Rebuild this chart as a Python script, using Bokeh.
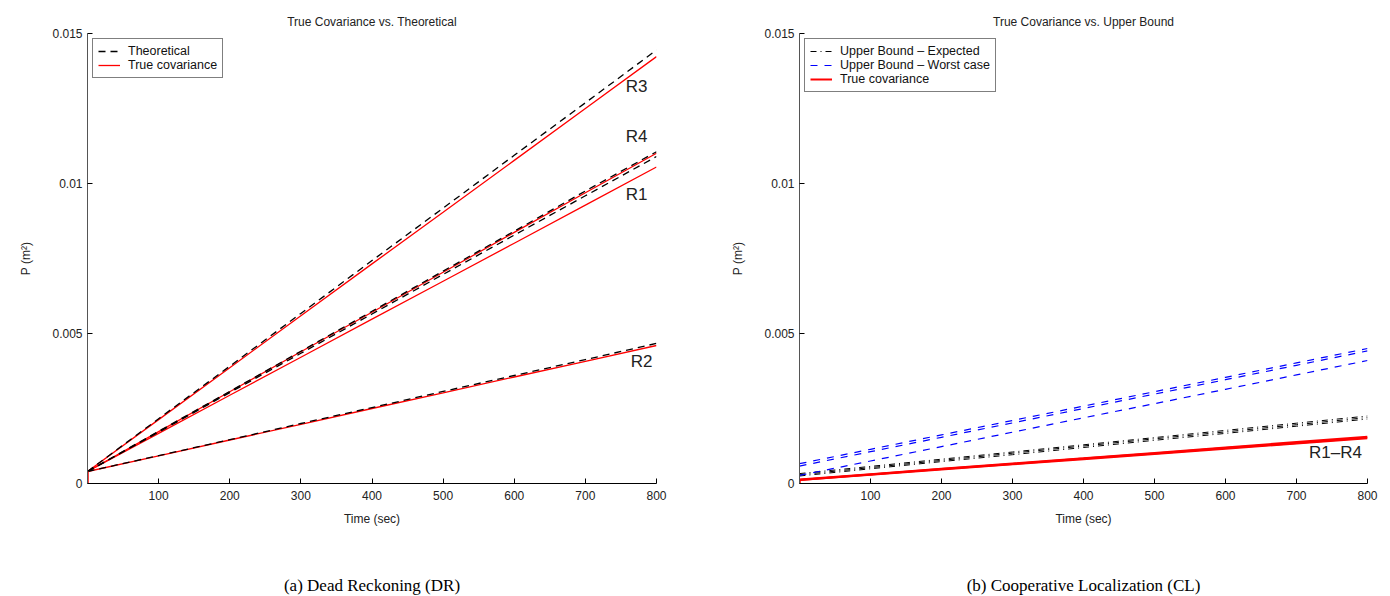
from bokeh.plotting import figure
from bokeh.models import Range1d, FixedTicker, Label, Legend, LegendItem
from bokeh.layouts import row, column
from bokeh.embed import file_html
from bokeh.resources import INLINE

# ---------------- data ----------------
time = [0, 100, 200, 300, 400, 500, 600, 700, 800]
t_start = [0, 0]

# (a) Dead reckoning
dr_theo = {
    "R3": [0.0004, 0.00216, 0.00391, 0.00567, 0.00743, 0.00918, 0.01094, 0.01269, 0.01445],
    "R4": [0.0004, 0.00174, 0.00307, 0.00441, 0.00574, 0.00708, 0.00841, 0.00975, 0.01106],
    "R1": [0.0004, 0.00171, 0.00303, 0.00434, 0.00565, 0.00697, 0.00828, 0.00959, 0.01090],
    "R2": [0.0004, 0.00093, 0.00146, 0.00200, 0.00253, 0.00307, 0.00360, 0.00413, 0.00467],
}
dr_true = {
    "R3": [0.0004, 0.00213, 0.00386, 0.00559, 0.00732, 0.00904, 0.01077, 0.01250, 0.01423],
    "R4": [0.0004, 0.00173, 0.00306, 0.00439, 0.00571, 0.00704, 0.00837, 0.00969, 0.01101],
    "R1": [0.0004, 0.00167, 0.00294, 0.00421, 0.00548, 0.00674, 0.00801, 0.00928, 0.01055],
    "R2": [0.0004, 0.00092, 0.00145, 0.00197, 0.00250, 0.00302, 0.00355, 0.00407, 0.00460],
}
dr_true_start = [0.0, 0.0004]

# (b) Cooperative localization
cl_worst = [
    [0.00066, 0.00114, 0.00162, 0.00210, 0.00258, 0.00306, 0.00354, 0.00402, 0.00450],
    [0.00058, 0.00106, 0.00154, 0.00202, 0.00250, 0.00298, 0.00346, 0.00394, 0.00442],
    [0.00027, 0.00075, 0.00123, 0.00171, 0.00219, 0.00266, 0.00314, 0.00362, 0.00410],
]
cl_expected = [
    [0.00033, 0.00057, 0.00081, 0.00105, 0.00129, 0.00153, 0.00177, 0.00201, 0.00225],
    [0.00029, 0.00053, 0.00077, 0.00101, 0.00125, 0.00149, 0.00172, 0.00196, 0.00220],
    [0.00025, 0.00049, 0.00073, 0.00096, 0.00120, 0.00144, 0.00167, 0.00191, 0.00215],
]
cl_true = [
    [0.00013, 0.00031, 0.00049, 0.00067, 0.00084, 0.00102, 0.00120, 0.00138, 0.00156],
    [0.00012, 0.00029, 0.00047, 0.00064, 0.00081, 0.00098, 0.00116, 0.00133, 0.00151],
    [0.00012, 0.00030, 0.00048, 0.00065, 0.00083, 0.00100, 0.00118, 0.00135, 0.00153],
]
cl_true_start = [0.0, 0.00013]

y_ticks = [0, 0.005, 0.01, 0.015]
y_tick_labels = {0: "0", 0.005: "0.005", 0.01: "0.01", 0.015: "0.015"}
x_ticks = [100, 200, 300, 400, 500, 600, 700, 800]

FONT = "Liberation Sans"
SERIF = "Liberation Serif"
RED = "#ff0000"
BLUE = "#0000ff"


def make_fig(border_left, border_right, title):
    p = figure(width=695, height=570, output_backend="svg", toolbar_location=None,
               x_range=Range1d(0, 800), y_range=Range1d(0, 0.015),
               min_border_left=border_left, min_border_right=border_right,
               min_border_top=33, min_border_bottom=87)
    p.title.text = title
    p.title.align = "center"
    p.title.text_font = FONT
    p.title.text_font_size = "12px"
    p.title.text_font_style = "normal"
    p.title.text_color = "#222222"
    p.title.standoff = 10
    p.outline_line_color = None
    p.grid.visible = False
    for ax in (p.xaxis[0], p.yaxis[0]):
        ax.major_tick_in = 5
        ax.major_tick_out = 0
        ax.minor_tick_in = 0
        ax.minor_tick_out = 0
        ax.axis_line_color = "black"
        ax.major_tick_line_color = "black"
        ax.major_label_text_font = FONT
        ax.major_label_text_font_size = "12px"
        ax.major_label_text_color = "#222222"
        ax.axis_label_text_font = FONT
        ax.axis_label_text_font_size = "12px"
        ax.axis_label_text_font_style = "normal"
        ax.axis_label_text_color = "#222222"
    p.yaxis[0].axis_line_color = "#555555"
    p.xaxis[0].ticker = FixedTicker(ticks=x_ticks)
    p.yaxis[0].ticker = FixedTicker(ticks=y_ticks)
    p.yaxis[0].major_label_overrides = y_tick_labels
    p.xaxis[0].axis_label = "Time (sec)"
    p.yaxis[0].axis_label = "P (m²)"
    p.xaxis[0].major_label_standoff = 7
    p.xaxis[0].axis_label_standoff = 9
    p.yaxis[0].major_label_standoff = 5
    p.yaxis[0].axis_label_standoff = 16
    return p


def make_caption(border_left, border_right, caption):
    c = figure(width=695, height=26, output_backend="svg", toolbar_location=None,
               x_range=Range1d(0, 800), y_range=Range1d(0, 1),
               x_axis_location=None, y_axis_location=None,
               min_border_left=border_left, min_border_right=border_right,
               min_border_top=0, min_border_bottom=0)
    c.outline_line_color = None
    c.grid.visible = False
    c.add_layout(Label(x=400, y=0.42, text=caption, text_align="center", text_baseline="middle",
                       text_font=SERIF, text_font_size="17px", text_color="black"))
    return c


# ---------------- (a) ----------------
p1 = make_fig(87, 39, "True Covariance vs. Theoretical")
theo_renderers = []
true_renderers = []
for k in ["R3", "R4", "R1", "R2"]:
    true_renderers.append(p1.line(time, dr_true[k], line_color=RED, line_width=1.3))
for k in ["R3", "R4", "R1", "R2"]:
    theo_renderers.append(p1.line(time, dr_theo[k], line_color="black", line_width=1.3,
                                  line_dash="7 5"))
p1.line(t_start, dr_true_start, line_color=RED, line_width=2.5)

for name, x, y in [("R3", 772, 0.01323), ("R4", 772, 0.01157), ("R1", 772, 0.00963), ("R2", 779, 0.00407)]:
    p1.add_layout(Label(x=x, y=y, text=name, text_align="center", text_baseline="middle",
                        text_font=FONT, text_font_size="17px", text_color="#222222"))

leg1 = Legend(items=[LegendItem(label="Theoretical", renderers=[theo_renderers[0]]),
                     LegendItem(label="True covariance", renderers=[true_renderers[0]])],
              location="top_left", margin=5, padding=5, spacing=0,
              label_height=14, glyph_height=14, glyph_width=22, label_standoff=8,
              label_text_font=FONT, label_text_font_size="12.5px",
              label_text_color="#111111",
              border_line_color="black", border_line_width=1, background_fill_alpha=1)
p1.add_layout(leg1)

# ---------------- (b) ----------------
p2 = make_fig(104, 23, "True Covariance vs. Upper Bound")
true2 = []
for s in cl_true:
    true2.append(p2.line(time, s, line_color=RED, line_width=2.0))
exp2 = []
for s in cl_expected:
    exp2.append(p2.line(time, s, line_color="black", line_width=1.0, line_dash="6 4 1 4"))
worst2 = []
for s in cl_worst:
    worst2.append(p2.line(time, s, line_color=BLUE, line_width=1.2, line_dash="7 7"))
p2.line(t_start, cl_true_start, line_color=RED, line_width=2.5)

p2.add_layout(Label(x=755, y=0.00102, text="R1–R4", text_align="center", text_baseline="middle",
                    text_font=FONT, text_font_size="17px", text_color="#222222"))

leg2 = Legend(items=[LegendItem(label="Upper Bound – Expected", renderers=[exp2[0]]),
                     LegendItem(label="Upper Bound – Worst case", renderers=[worst2[0]]),
                     LegendItem(label="True covariance", renderers=[true2[0]])],
              location="top_left", margin=5, padding=5, spacing=0,
              label_height=14, glyph_height=14, glyph_width=22, label_standoff=8,
              label_text_font=FONT, label_text_font_size="12.5px",
              label_text_color="#111111",
              border_line_color="black", border_line_width=1, background_fill_alpha=1)
p2.add_layout(leg2)

c1 = make_caption(87, 39, "(a) Dead Reckoning (DR)")
c2 = make_caption(104, 23, "(b) Cooperative Localization (CL)")

layout = column(row(p1, p2), row(c1, c2))
open("out.html", "w").write(file_html(layout, INLINE))
